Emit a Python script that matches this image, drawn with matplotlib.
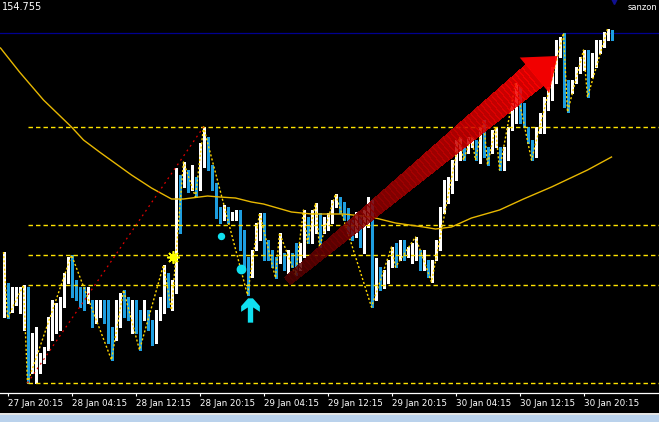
import numpy as np
import matplotlib
matplotlib.use("Agg")
import matplotlib.pyplot as plt
from matplotlib.collections import LineCollection, PolyCollection
from matplotlib.patches import Polygon, Rectangle
from matplotlib.path import Path

# 30 min bars, index 0 = 27 Jan 19:45
highs = [152.48, 152.17, 152.13, 152.13, 152.13, 152.15, 152.13, 151.67, 151.73, 151.47,
         151.53, 151.83, 152.00, 151.97, 152.03, 152.27, 152.43, 152.45, 152.20, 152.13,
         152.13, 152.13, 152.00, 152.00, 152.00, 152.00, 152.00, 151.73, 152.00, 152.07,
         152.10, 152.03, 152.00, 152.00, 151.90, 152.00, 151.90, 151.80, 151.90, 152.03,
         152.35, 152.27, 152.20, 153.32, 153.25, 153.38, 153.30, 153.35, 153.23, 153.57,
         153.73, 153.63, 153.35, 153.17, 152.93, 152.95, 152.93, 152.88, 152.90, 152.90,
         152.70, 152.43, 152.50, 152.77, 152.87, 152.87, 152.60, 152.50, 152.43, 152.67,
         152.47, 152.50, 152.47, 152.57, 152.57, 152.90, 152.83, 152.90, 152.97, 152.87,
         152.83, 152.87, 153.00, 153.06, 153.03, 152.98, 152.92, 152.80, 152.88, 152.85,
         152.90, 153.03, 153.00, 152.42, 152.33, 152.30, 152.40, 152.53, 152.57, 152.60,
         152.60, 152.53, 152.57, 152.63, 152.50, 152.50, 152.40, 152.40, 152.60, 152.93,
         153.20, 153.23, 153.40, 153.60, 153.63, 153.53, 153.63, 153.63, 153.60, 153.73,
         153.80, 153.53, 153.70, 153.73, 153.53, 153.53, 153.73, 153.97, 154.17, 154.13,
         153.97, 153.73, 153.60, 153.73, 153.87, 154.03, 154.13, 154.33, 154.60, 154.63,
         154.67, 154.20, 154.20, 154.33, 154.43, 154.50, 154.50, 154.47, 154.60, 154.60,
         154.68, 154.71, 154.70]
lows = [151.83, 151.82, 151.88, 151.95, 151.87, 151.70, 151.17, 151.27, 151.17, 151.27,
        151.37, 151.50, 151.60, 151.67, 151.70, 151.93, 152.17, 152.03, 152.00, 151.93,
        151.90, 151.97, 151.73, 151.77, 151.83, 151.77, 151.57, 151.40, 151.60, 151.73,
        151.83, 151.80, 151.67, 151.67, 151.50, 151.80, 151.70, 151.55, 151.57, 151.80,
        151.87, 151.93, 151.90, 152.07, 152.67, 153.13, 153.08, 153.10, 153.03, 153.10,
        153.33, 153.30, 153.10, 152.82, 152.77, 152.80, 152.77, 152.80, 152.80, 152.50,
        152.30, 152.05, 152.23, 152.50, 152.60, 152.40, 152.40, 152.33, 152.22, 152.37,
        152.30, 152.27, 152.33, 152.25, 152.30, 152.43, 152.57, 152.57, 152.67, 152.53,
        152.67, 152.70, 152.77, 152.93, 152.87, 152.80, 152.67, 152.60, 152.63, 152.53,
        152.47, 152.73, 151.93, 152.00, 152.10, 152.12, 152.17, 152.33, 152.33, 152.40,
        152.40, 152.43, 152.37, 152.40, 152.30, 152.30, 152.23, 152.18, 152.40, 152.50,
        152.87, 152.97, 153.07, 153.20, 153.40, 153.40, 153.47, 153.53, 153.40, 153.37,
        153.43, 153.35, 153.47, 153.53, 153.30, 153.30, 153.40, 153.70, 153.77, 153.77,
        153.73, 153.57, 153.40, 153.43, 153.67, 153.67, 153.90, 154.00, 154.17, 154.43,
        153.93, 153.88, 154.07, 154.17, 154.27, 154.30, 154.03, 154.23, 154.33, 154.47,
        154.53, 154.60, 154.60]
closes = [152.10, 151.88, 151.95, 152.03, 152.10, 152.12, 151.25, 151.35, 151.40, 151.40,
          151.48, 151.75, 151.80, 151.90, 152.00, 152.20, 152.35, 152.15, 152.08, 152.05,
          152.00, 152.07, 151.85, 151.90, 151.92, 151.88, 151.65, 151.55, 151.85, 152.00,
          151.95, 151.90, 151.95, 151.80, 151.70, 151.90, 151.80, 151.62, 151.80, 152.00,
          152.25, 152.05, 152.10, 153.20, 153.05, 153.30, 153.15, 153.25, 153.10, 153.50,
          153.60, 153.40, 153.15, 152.95, 152.85, 152.88, 152.82, 152.85, 152.87, 152.60,
          152.40, 152.20, 152.38, 152.65, 152.80, 152.55, 152.50, 152.40, 152.30, 152.45,
          152.38, 152.42, 152.38, 152.35, 152.50, 152.75, 152.65, 152.80, 152.85, 152.70,
          152.75, 152.80, 152.90, 153.00, 152.95, 152.87, 152.75, 152.70, 152.75, 152.60,
          152.75, 152.90, 152.10, 152.25, 152.20, 152.22, 152.32, 152.45, 152.42, 152.50,
          152.45, 152.48, 152.50, 152.50, 152.38, 152.38, 152.28, 152.32, 152.55, 152.85,
          153.10, 153.10, 153.30, 153.50, 153.55, 153.48, 153.55, 153.58, 153.50, 153.60,
          153.55, 153.45, 153.60, 153.65, 153.40, 153.45, 153.65, 153.90, 154.05, 153.95,
          153.85, 153.65, 153.50, 153.65, 153.80, 153.95, 154.05, 154.25, 154.45, 154.55,
          154.15, 154.05, 154.15, 154.28, 154.38, 154.42, 154.25, 154.40, 154.53, 154.55,
          154.63, 154.67, 154.62]

# moving average, read at some bars
ma_idx = [-0.75, 4, 10, 17, 20, 24, 32, 37, 42, 45, 51, 54, 58, 62, 65, 72, 77, 85,
          92, 98, 105, 108, 112, 117, 124, 130, 137, 146, 152]
ma_val = [154.52, 154.28, 154.00, 153.73, 153.60, 153.48, 153.25, 153.12, 153.01, 153.01,
          153.04, 153.03, 153.02, 152.98, 152.96, 152.88, 152.86, 152.86, 152.83, 152.77,
          152.73, 152.71, 152.73, 152.82, 152.90, 153.01, 153.13, 153.30, 153.43]

# zigzag swing points
zz_idx = [0, 1, 5, 6, 17, 27, 30, 34, 40, 42, 45, 48, 50, 61, 64, 68, 69, 73, 75, 76,
          78, 79, 83, 92, 97, 98, 103, 107, 114, 115, 117, 118, 120, 121, 123, 124, 128,
          132, 140, 141, 145, 146, 151]
zz_val = [152.48, 151.82, 152.15, 151.17, 152.45, 151.40, 152.10, 151.50, 152.35, 151.90,
          153.38, 153.03, 153.73, 152.05, 152.87, 152.22, 152.67, 152.25, 152.90, 152.57,
          152.97, 152.53, 153.06, 151.93, 152.53, 152.33, 152.63, 152.18, 153.63, 153.40,
          153.63, 153.40, 153.80, 153.35, 153.73, 153.30, 154.17, 153.40, 154.67, 153.88,
          154.50, 154.03, 154.71]

levels = [153.73, 152.75, 152.45, 152.15, 151.17]
level_start = 6
top_level = 154.67
trend_idx = [6, 50]
trend_val = [151.17, 153.73]
arrow_from = (71.0, 152.19)
arrow_to = (138.5, 154.44)
star_pt = (42.25, 152.43)
dot_idx = [54.25, 59.25]
dot_val = [152.64, 152.31]
up_pt = (61.5, 151.895)
mark_pt = (152.5, 155.03)

tick_idx = [1, 17, 33, 49, 65, 81, 97, 113, 129, 145]
tick_labels = ["27 Jan 20:15", "28 Jan 04:15", "28 Jan 12:15", "28 Jan 20:15",
               "29 Jan 04:15", "29 Jan 12:15", "29 Jan 20:15", "30 Jan 04:15",
               "30 Jan 12:15", "30 Jan 20:15"]

W, H = 659, 422
fnt = ['Liberation Sans Narrow', 'DejaVu Sans']
fig = plt.figure(figsize=(W / 100, H / 100), dpi=100, facecolor='black')
ax = fig.add_axes([0, 29 / H, 1, 393 / H])
ax.set_facecolor('black')
ax.set_xlim(-0.875, 163.875)
ax.set_ylim(151.07, 155.0)

x = np.arange(len(highs))
cols = ['white']
for i in range(1, len(closes)):
    cols.append('white' if closes[i] >= closes[i - 1] else '#1E9EE0')
segs = [[(xi, lo), (xi, hi)] for xi, lo, hi in zip(x, lows, highs)]
ax.add_collection(LineCollection(segs, colors=cols, linewidths=0.76, zorder=2,
                                 antialiaseds=False))

ax.hlines(levels, level_start, ax.get_xlim()[1], colors='#FFE400', lw=1.0,
          linestyles=(0, (3.2, 2.2)), zorder=3)
ax.axhline(top_level, color='#000090', lw=0.9, zorder=1)
ax.plot(ma_idx, ma_val, color='#E8B800', lw=1.0, zorder=3)
ax.plot(zz_idx, zz_val, color='#FFD700', lw=1.0, ls=(0, (1.5, 1.5)), zorder=3)
ax.plot(trend_idx, trend_val, color='#E00000', lw=0.9, ls=(0, (1.5, 3)), zorder=3)

# gradient arrow
tr = ax.transData
inv = tr.inverted()
p0 = tr.transform(arrow_from)
p1 = tr.transform(arrow_to)
v = p1 - p0
u = v / np.hypot(*v)
n = np.array([-u[1], u[0]])
hl, hw = 30.0, 23.0
pb = p1 - hl * u
quads, qcols = [], []
N = 70
for k in range(N):
    t0, t1 = k / N, (k + 1) / N
    c0 = p0 + t0 * (pb - p0)
    c1 = p0 + t1 * (pb - p0)
    w0, w1 = 4.5 + 9 * t0, 4.5 + 9 * t1
    q = np.array([c0 + w0 * n, c1 + w1 * n, c1 - w1 * n, c0 - w0 * n])
    quads.append(inv.transform(q))
    r = 0.30 + 0.70 * (t0 + t1) / 2
    qcols.append((r, 0, 0))
ax.add_collection(PolyCollection(quads, facecolors=qcols, edgecolors='none',
                                 alpha=0.85, antialiaseds=False, zorder=4))
head = np.array([p1, pb + hw * n, pb - hw * n])
ax.add_patch(Polygon(inv.transform(head), closed=True, fc=(1, 0, 0), ec='none',
                     alpha=0.95, zorder=4))

# signals
ax.plot(*star_pt, marker='o', ms=4.5, color='#FFFF00', zorder=5)
ax.plot(*star_pt, marker=(8, 2, 0), ms=9, mew=1.2, color='#FFFF00', zorder=5)
ax.plot(dot_idx[0], dot_val[0], 'o', ms=4.3, color='#10E0F0', zorder=5)
ax.plot(dot_idx[1], dot_val[1], 'o', ms=6.0, color='#10E0F0', zorder=5)
up_verts = [(-0.2, 1), (0.2, 1), (0.77, 0.36), (0.77, -0.11), (0.22, 0.25), (0.22, -1),
            (-0.22, -1), (-0.22, 0.25), (-0.77, -0.11), (-0.77, 0.36), (-0.2, 1)]
up_marker = Path(up_verts, [Path.MOVETO] + [Path.LINETO] * 9 + [Path.CLOSEPOLY])
ax.plot(*up_pt, marker=up_marker, ms=17.5, color='#10E0F0', mew=0, zorder=5)
ax.plot(*mark_pt, marker='v', ms=10, color='#101090', zorder=5, clip_on=True)

# axis
for s in ['top', 'left', 'right']:
    ax.spines[s].set_visible(False)
ax.spines['bottom'].set_color('white')
ax.spines['bottom'].set_linewidth(0.9)
ax.set_yticks([])
ax.set_xticks(tick_idx)
ax.set_xticklabels(tick_labels, fontsize=6.3, color='white', family=fnt)
ax.tick_params(axis='x', colors='white', length=2.3, width=0.8, pad=1.8)
for lab in ax.get_xticklabels():
    lab.set_horizontalalignment('left')

fig.text(2 / W, 1 - 2 / H, '154.755', color='white', fontsize=7, family=fnt,
         va='top', ha='left')
fig.text(628 / W, 1 - 3 / H, 'sanzon', color='white', fontsize=6.0, family=fnt,
         va='top', ha='left')

fig.patches.append(Rectangle((0, 0), 1, 7 / H, transform=fig.transFigure,
                             fc='#BAD2EC', ec='none'))
fig.patches.append(Rectangle((0, 7 / H), 1, 2 / H, transform=fig.transFigure,
                             fc='#E4E4E4', ec='none'))

plt.savefig('out.png', dpi=100, facecolor='black')
